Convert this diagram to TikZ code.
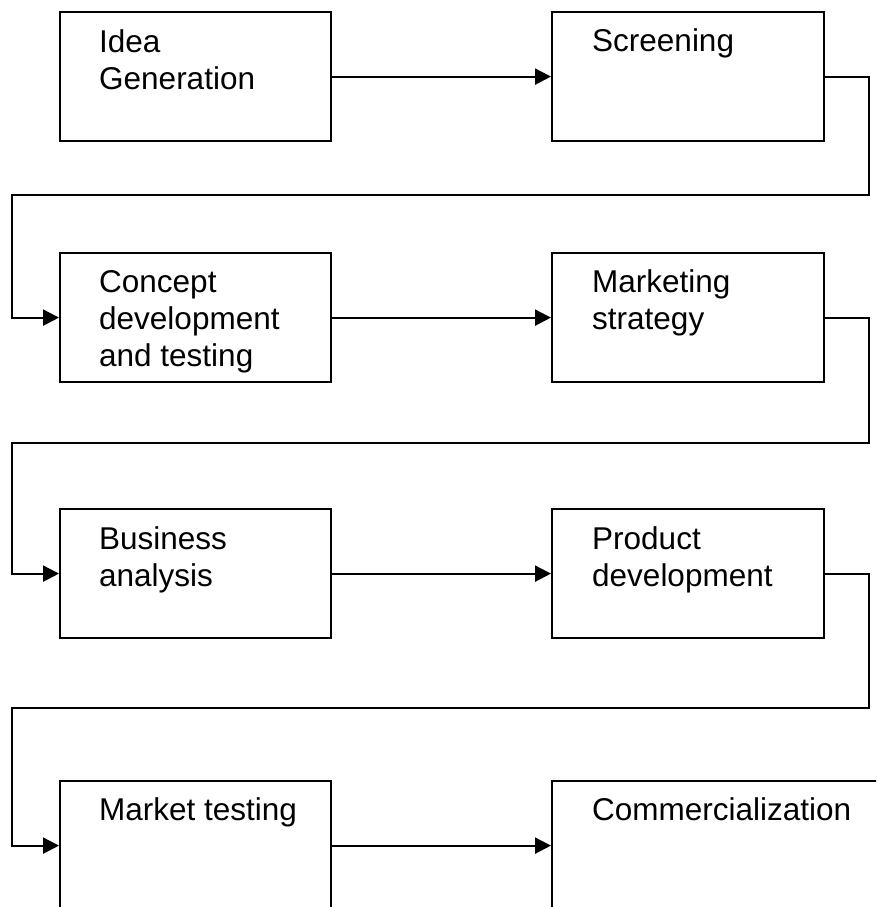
\documentclass[tikz,border=0pt]{standalone}
\usepackage{fontspec}
\setmainfont{Liberation Sans}
\usetikzlibrary{arrows.meta}
\begin{document}
\begin{tikzpicture}[x=1pt,y=-1pt,
  stage/.style={draw=black, line width=2.2pt, rectangle, inner sep=0pt,
    minimum height=129pt, anchor=north west},
  leftstage/.style={stage, minimum width=271pt},
  rightstage/.style={stage, minimum width=272pt},
  caption/.style={anchor=base west, inner sep=0pt, align=left,
    font=\fontsize{31.5pt}{37pt}\selectfont},
  flow/.style={line width=2.2pt, -{Triangle[length=16pt,width=16pt]}}]
\clip (0,0) rectangle (876,907);
\fill[white] (0,0) rectangle (876,907);

% stage boxes, two per row
\node[leftstage]  (idea)    at (59,11)  {};
\node[rightstage] (screen)  at (551,11) {};
\node[leftstage]  (concept) at (59,252) {};
\node[rightstage] (mkstrat) at (551,252) {};
\node[leftstage]  (busi)    at (59,508) {};
\node[rightstage] (prod)    at (551,508) {};
\node[leftstage]  (mktest)  at (59,780) {};
\node[stage, minimum width=360pt] (comm) at (551,780) {};

% stage captions (anchored at the baseline of their last line)
\node[caption] (tidea)    at ([shift={(40,78)}]idea.north west)     {Idea\\Generation};
\node[caption] (tscreen)  at ([shift={(41,41)}]screen.north west)   {Screening};
\node[caption] (tconcept) at ([shift={(40,114)}]concept.north west) {Concept\\development\\and testing};
\node[caption] (tmkstrat) at ([shift={(41,77)}]mkstrat.north west)  {Marketing\\strategy};
\node[caption] (tbusi)    at ([shift={(40,78)}]busi.north west)     {Business\\analysis};
\node[caption] (tprod)    at ([shift={(41,78)}]prod.north west)     {Product\\development};
\node[caption] (tmktest)  at ([shift={(40,40)}]mktest.north west)   {Market testing};
\node[caption] (tcomm)    at ([shift={(41,40)}]comm.north west)     {Commercialization};

% turning points of the return lines
\coordinate (r1) at (869,195);
\coordinate (l1) at (12,195);
\coordinate (r2) at (869,443);
\coordinate (l2) at (12,443);
\coordinate (r3) at (869,708);
\coordinate (l3) at (12,708);

% connectors
\draw[flow] (idea.east) -- (screen.west);
\draw[flow] (screen.east) -| (r1) -- (l1) |- (concept.west);
\draw[flow] (concept.east) -- (mkstrat.west);
\draw[flow] (mkstrat.east) -| (r2) -- (l2) |- (busi.west);
\draw[flow] (busi.east) -- (prod.west);
\draw[flow] (prod.east) -| (r3) -- (l3) |- (mktest.west);
\draw[flow] (mktest.east) -- (mktest.east -| comm.west);
\end{tikzpicture}
\end{document}
